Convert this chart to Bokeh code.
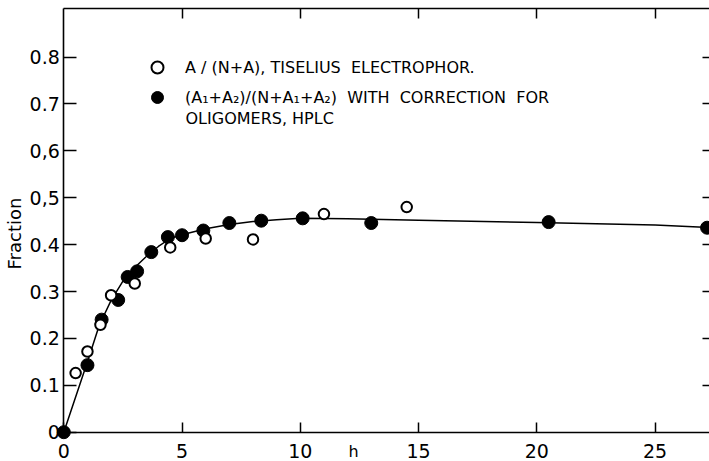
import numpy as np
from bokeh.plotting import figure
from bokeh.models import Range1d, LinearAxis, FixedTicker, Label, Legend, LegendItem
from bokeh.core.properties import value
from bokeh.embed import file_html
from bokeh.resources import INLINE

# ---- data ----
x_ticks = [0, 5, 10, 15, 20, 25]
x_tick_labels = ["0", "5", "10", "15", "20", "25"]
y_ticks = [0, 0.1, 0.2, 0.3, 0.4, 0.5, 0.6, 0.7, 0.8]
y_tick_labels = ["0", "0.1", "0.2", "0.3", "0.4", "0,5", "0,6", "0.7", "0.8"]

# open circles: A/(N+A), Tiselius electrophoresis
open_h = [0.5, 1.0, 1.55, 2.0, 3.0, 4.5, 6.0, 8.0, 11.0, 14.5]
open_f = [0.126, 0.172, 0.229, 0.292, 0.317, 0.394, 0.413, 0.411, 0.465, 0.480]

# filled circles: (A1+A2)/(N+A1+A2), HPLC
filled_h = [0, 1.0, 1.6, 2.3, 2.7, 3.1, 3.7, 4.4, 5.0, 5.9, 7.0, 8.35, 10.1, 13.0, 20.5, 27.2]
filled_f = [0, 0.143, 0.240, 0.282, 0.331, 0.343, 0.384, 0.416, 0.420, 0.430, 0.446, 0.451, 0.456, 0.446, 0.448, 0.436]

# fitted curve
curve_h = [0, 1.0, 1.5, 2.0, 2.5, 3.0, 3.5, 4.0, 4.5, 5.0, 6.0, 7.0, 8.0, 9.0, 10.0, 12.0, 15.0, 20.0, 25.0, 27.5]
curve_f = [0, 0.150, 0.228, 0.281, 0.322, 0.351, 0.375, 0.396, 0.413, 0.421, 0.434, 0.443, 0.449, 0.453, 0.456, 0.455, 0.452, 0.447, 0.442, 0.436]

label_open = "A / (N+A), TISELIUS  ELECTROPHOR."
label_filled_1 = "(A\u2081+A\u2082)/(N+A\u2081+A\u2082)  WITH  CORRECTION  FOR"
label_filled_2 = "OLIGOMERS, HPLC"
x_title = "h"
y_title = "Fraction"

FONT = "DejaVu Sans"

# ---- layout: the frame covers the canvas, axes are pinned at the data edges ----
W, H = 709, 461
X0_PX, PX_PER_X = 63.3, 23.65      # pixel of h=0, pixels per hour
Y0_PX, PX_PER_Y = 431.7, 469.0     # pixel of fraction=0, pixels per unit
x_lo, x_hi = -X0_PX / PX_PER_X, (W - X0_PX) / PX_PER_X
y_lo, y_hi = -(H - Y0_PX) / PX_PER_Y, Y0_PX / PX_PER_Y
x_end = x_hi                        # right edge of the axes box
y_top = (Y0_PX - 8.3) / PX_PER_Y    # top edge of the axes box

p = figure(width=W, height=H, output_backend="svg", toolbar_location=None,
           x_range=Range1d(x_lo, x_hi), y_range=Range1d(y_lo, y_hi),
           min_border=0, background_fill_color="white", border_fill_color="white")
p.outline_line_color = None
p.grid.visible = False

xa = p.xaxis[0]
xa.ticker = FixedTicker(ticks=x_ticks)
xa.major_label_overrides = {t: l for t, l in zip(x_ticks, x_tick_labels)}
xa.fixed_location = 0
xa.bounds = (0, x_end)
ya = p.yaxis[0]
ya.ticker = FixedTicker(ticks=y_ticks)
ya.major_label_overrides = {t: l for t, l in zip(y_ticks, y_tick_labels)}
ya.fixed_location = 0
ya.bounds = (0, y_top)

for ax in (xa, ya):
    ax.major_tick_in = 10
    ax.major_tick_out = 0
    ax.minor_tick_line_color = None
    ax.axis_line_width = 1.6
    ax.major_tick_line_width = 1.5
    ax.axis_line_color = "black"
    ax.major_tick_line_color = "black"
    ax.major_label_text_font = FONT
    ax.major_label_text_font_size = "19px"
    ax.major_label_text_color = "black"
ya.major_tick_in = 13
xa.major_label_standoff = 12
ya.major_label_standoff = 4

top = LinearAxis(ticker=FixedTicker(ticks=x_ticks[1:]), major_tick_in=10, major_tick_out=0,
                 minor_tick_line_color=None, major_label_text_color=None,
                 axis_line_width=1.6, major_tick_line_width=1.5,
                 axis_line_color="black", major_tick_line_color="black",
                 fixed_location=y_top, bounds=(0, x_end))
p.add_layout(top, "above")

right = LinearAxis(ticker=FixedTicker(ticks=y_ticks[1:]), major_tick_in=7, major_tick_out=0,
                   minor_tick_line_color=None, major_label_text_color=None,
                   axis_line_color=None, major_tick_line_width=1.3,
                   major_tick_line_color="black", fixed_location=x_end)
p.add_layout(right, "right")

p.line(curve_h, curve_f, line_color="black", line_width=1.5)
r_filled = p.scatter(filled_h, filled_f, marker="circle", size=13, fill_color="black",
                     line_color="black", line_width=1, level="overlay")
r_open = p.scatter(open_h, open_f, marker="circle", size=10.5, fill_color="white",
                   line_color="black", line_width=2, level="overlay")

legend = Legend(items=[LegendItem(label=value(label_open), renderers=[r_open]),
                       LegendItem(label=value(label_filled_1), renderers=[r_filled])],
                location=(142, 349), glyph_width=30, glyph_height=30, label_standoff=13,
                spacing=0, padding=0, margin=0, border_line_color=None,
                background_fill_alpha=0, label_text_font=FONT, label_text_font_size="16px",
                label_text_color="black")
p.add_layout(legend)

p.add_layout(Label(x=(185 - X0_PX) / PX_PER_X, y=(Y0_PX - 118) / PX_PER_Y, text=label_filled_2,
                   text_align="left", text_baseline="middle", text_font=FONT,
                   text_font_size="16px", text_color="black"))

p.add_layout(Label(x=(14 - X0_PX) / PX_PER_X, y=(Y0_PX - 233) / PX_PER_Y, text=y_title,
                   angle=np.pi / 2, text_align="center", text_baseline="middle",
                   text_font=FONT, text_font_size="18px", text_color="black"))
p.add_layout(Label(x=(353 - X0_PX) / PX_PER_X, y=(Y0_PX - 451) / PX_PER_Y, text=x_title,
                   text_align="center", text_baseline="middle", text_font=FONT,
                   text_font_size="16px", text_color="black"))

open("out.html", "w").write(file_html(p, INLINE))
